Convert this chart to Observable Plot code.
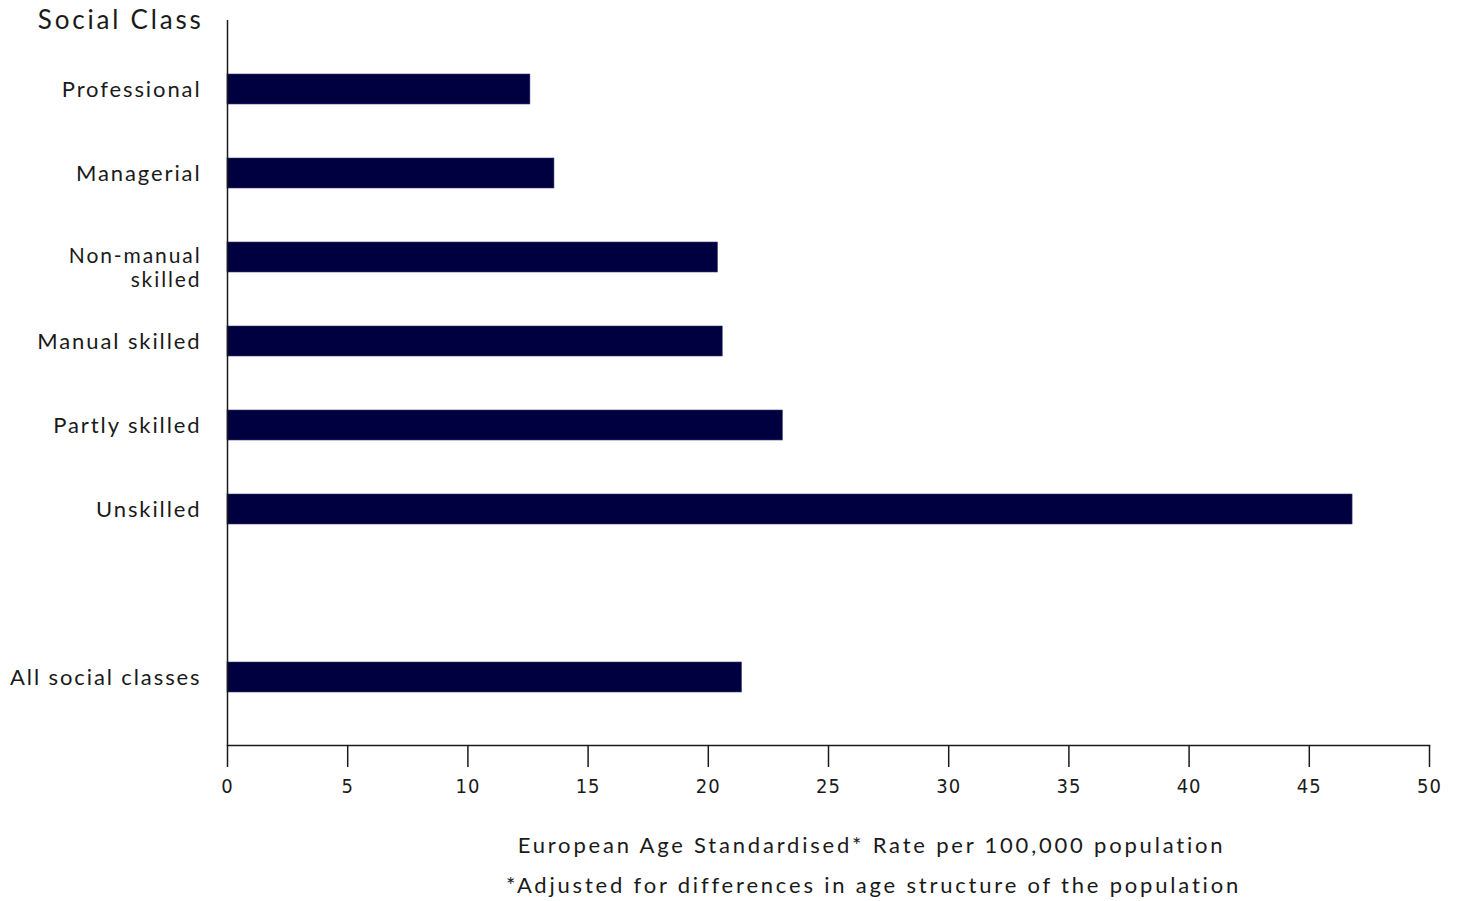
<!DOCTYPE html>
<html>
<head>
<meta charset="utf-8">
<script src="https://cdn.jsdelivr.net/npm/d3@7"></script>
<script src="https://cdn.jsdelivr.net/npm/@observablehq/plot@0.6"></script>
<style>
  html, body { margin: 0; padding: 0; background: #fff; }
  #chart svg { display: block; }
  #chart g[aria-label="y-axis tick label"] text { letter-spacing: 1.9px; }
  #chart g[aria-label="x-axis tick label"] text { letter-spacing: 1px; }
  #chart g[aria-label="text"] text { letter-spacing: 2.8px; }
</style>
</head>
<body>
<div id="chart"></div>
<script>
const categories = ["Professional", "Managerial", "Non-manual\nskilled", "Manual skilled", "Partly skilled", "Unskilled", "All social classes"];
const values = [12.6, 13.6, 20.4, 20.6, 23.1, 46.8, 21.4];
const xTicks = [0, 5, 10, 15, 20, 25, 30, 35, 40, 45, 50];
const yTitle = "Social Class";
const xTitle = "European Age Standardised* Rate per 100,000 population";
const footnote = "*Adjusted for differences in age structure of the population";

// gap placeholder before the total bar
const yDomain = [...categories.slice(0, 6), " ", categories[6]];
const data = categories.map((c, i) => ({category: c, value: values[i]}));
const twoLine = categories.filter(c => c.includes("\n"));
const oneLine = categories.filter(c => !c.includes("\n"));

const font = "Lato, 'Open Sans', sans-serif";
const ink = "#1a1a1a";

const plot = Plot.plot({
  width: 1459,
  height: 901,
  marginLeft: 227,
  marginRight: 30,
  marginTop: 20,
  marginBottom: 156,
  style: {fontFamily: font, background: "#fff", color: ink},
  x: {domain: [0, 50]},
  y: {domain: yDomain, paddingInner: 0.643, paddingOuter: 0.63},
  marks: [
    Plot.barX(data, {x: "value", y: "category", fill: "#000040", stroke: "#3a3a70", strokeWidth: 0.6}),
    Plot.ruleX([0], {stroke: ink, strokeWidth: 1.5}),
    Plot.frame({anchor: "bottom", stroke: ink, strokeWidth: 1.5}),
    Plot.axisX({
      ticks: xTicks, tickSize: 22, tickPadding: 11, tickFormat: d => String(d),
      fontFamily: "'Liberation Sans Narrow', 'DejaVu Sans Condensed', sans-serif",
      fontSize: 20, stroke: ink, strokeWidth: 1.5, fill: ink, label: null
    }),
    Plot.axisY({
      ticks: oneLine, tickSize: 0, tickPadding: 26, fontSize: 22, fill: ink, label: null,
      fontFamily: font
    }),
    Plot.axisY({
      ticks: twoLine, tickSize: 0, tickPadding: 26, fontSize: 21, fill: ink, label: null,
      fontFamily: font, lineHeight: 1.12, dy: 10
    }),
    Plot.text([yTitle], {frameAnchor: "top-left", textAnchor: "end", lineAnchor: "middle", dx: -24, fontSize: 26, fill: ink, fontFamily: font}),
    Plot.text([xTitle], {frameAnchor: "bottom", dx: 43, dy: 107, fontSize: 22, fill: ink, fontFamily: font}),
    Plot.text([footnote], {frameAnchor: "bottom", dx: 45, dy: 147, fontSize: 22, fill: ink, fontFamily: font})
  ]
});
document.getElementById("chart").appendChild(plot);
</script>
</body>
</html>
